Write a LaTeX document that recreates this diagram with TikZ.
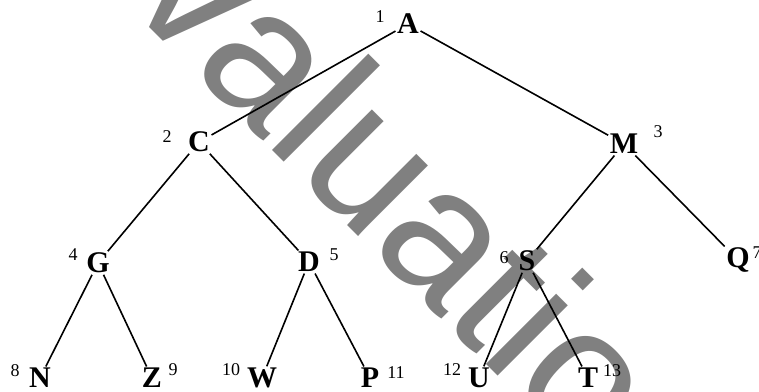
\documentclass[tikz,border=0pt]{standalone}
\usepackage{fontspec}
\setmainfont{Liberation Serif}
\newfontfamily\markfont{Liberation Sans}

\begin{document}
\begin{tikzpicture}[x=1pt,y=-1pt,
        vert/.style={font=\fontsize{30}{30}\selectfont\bfseries, inner sep=1.5pt},
        num/.style={font=\fontsize{18}{18}\selectfont, inner sep=0pt},
        edge/.style={line width=1.6pt}]
        \useasboundingbox (0,0) rectangle (759,391);
        \clip (0,0) rectangle (759,391);
        \node[text=black!50, font=\markfont\fontsize{188}{188}\selectfont, rotate=-45, anchor=base] (mark) at (345,223) {Evaluation};
        \foreach \p/\x/\y in {A/408/24, C/199/142, M/624/144, G/98/263, D/309/262, S/527/261, Q/738/260,
            N/40/378, Z/152/378, W/262/378, P/370/378, U/479/378, T/588/378}
        {
            \node[vert] (\p) at (\x,\y) {\p};
        }
        \foreach \k/\x/\y in {1/380/17, 2/167/137, 3/658/132, 4/73/255, 5/334/255, 6/504/258, 7/757/253,
            8/15/371, 9/173/370, 10/231/370, 11/396/373, 12/452/370, 13/612/371}
        {
            \node[num] (n\k) at (\x,\y) {\k};
        }
        \foreach \a/\b in {A/C, A/M, C/G, C/D, M/S, M/Q, G/N, G/Z, D/W, D/P, S/U, S/T}
            \draw[edge] (\a) -- (\b);
\end{tikzpicture}
\end{document}
